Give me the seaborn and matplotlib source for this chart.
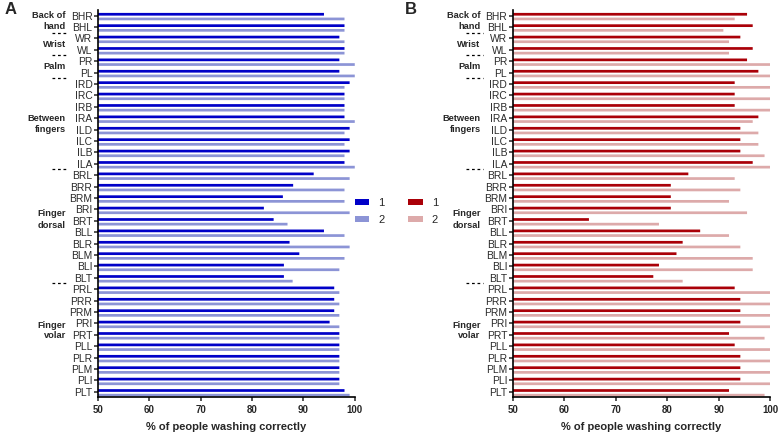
import numpy as np
import pandas as pd
import matplotlib
matplotlib.use("Agg")
import matplotlib.pyplot as plt
import seaborn as sns

# ── Data ──────────────────────────────────────────────────────────────────────
sites = ["BHR", "BHL", "WR", "WL", "PR", "PL",
         "IRD", "IRC", "IRB", "IRA", "ILD", "ILC", "ILB", "ILA",
         "BRL", "BRR", "BRM", "BRI", "BRT", "BLL", "BLR", "BLM", "BLI", "BLT",
         "PRL", "PRR", "PRM", "PRI", "PRT", "PLL", "PLR", "PLM", "PLI", "PLT"]

a_group1 = [94, 98, 97, 98, 97, 97,
            99, 98, 98, 98, 99, 99, 99, 98,
            92, 88, 86, 82.3, 84.2, 94, 87.3, 89.2, 86.2, 86.2,
            96, 96, 96, 95.1, 97, 97, 97, 97, 97, 98]
a_group2 = [98, 98, 98, 98, 100, 100,
            98, 98, 98, 100, 98, 98, 98, 100,
            99, 98, 98, 99, 86.9, 98, 99, 98, 97, 87.9,
            97, 97, 97, 97, 97, 97, 97, 97, 97, 99]

b_group1 = [95.5, 96.6, 94.2, 96.6, 95.5, 97.7,
            93.1, 93.1, 93.1, 97.7, 94.2, 94.2, 94.2, 96.6,
            84.1, 80.7, 80.7, 80.7, 64.8, 86.4, 83.0, 81.8, 78.4, 77.3,
            93.1, 94.2, 94.2, 94.2, 92.0, 93.1, 94.2, 94.2, 94.2, 92.0]
b_group2 = [93.1, 90.9, 92.0, 92.0, 100, 100,
            100, 100, 100, 96.6, 97.7, 97.7, 98.9, 100,
            93.1, 94.2, 92.0, 95.5, 78.4, 92.0, 94.2, 96.6, 96.6, 83.0,
            100, 100, 100, 100, 98.9, 100, 100, 100, 100, 98.9]

# region labels (text lines, row in tick units) and dashed separators
region_lines = [("Back of", 0.0), ("hand", 1.0), ("Wrist", 2.55), ("Palm", 4.5),
                ("Between", 9.0), ("fingers", 10.0),
                ("Finger", 17.4), ("dorsal", 18.4),
                ("Finger", 27.2), ("volar", 28.1)]
separators = [1.5, 3.5, 5.5, 13.5, 23.5]

sns.set_style("ticks")
plt.rcParams["font.family"] = ["Liberation Sans", "DejaVu Sans"]

TICK_SHIFT = -0.09   # ticks sit next to the first bar of each pair


def make_df(v1, v2):
    return pd.DataFrame({
        "site": sites * 2,
        "group": ["1"] * len(sites) + ["2"] * len(sites),
        "value": list(v1) + list(v2),
    })


def draw_panel(ax, v1, v2, colors, legend_x):
    df = make_df(v1, v2)
    sns.barplot(data=df, y="site", x="value", hue="group", order=sites,
                palette={"1": colors[0], "2": colors[1]},
                width=0.82, gap=0.42, saturation=1, errorbar=None,
                linewidth=0, ax=ax)
    for p in ax.patches:
        p.set_snap(False)
    ax.set_xlim(50, 100)
    ax.set_ylim(33.375, -0.58)
    ax.set_xticks(np.arange(50, 101, 10))
    ax.set_yticks(np.arange(len(sites)) + TICK_SHIFT, labels=sites)
    ax.tick_params(axis="y", labelsize=7.4, length=3, width=1.1,
                   labelcolor="#2a2a2a", pad=1)
    ax.tick_params(axis="x", labelsize=7, length=3, width=1.1, pad=3)
    for lbl in ax.get_xticklabels():
        lbl.set_fontweight("bold")
    ax.set_ylabel("")
    ax.set_xlabel("% of people washing correctly", fontsize=8,
                  fontweight="bold", labelpad=5)
    for side in ["top", "right"]:
        ax.spines[side].set_visible(False)
    for side in ["left", "bottom"]:
        ax.spines[side].set_linewidth(1.2)
        ax.spines[side].set_color("black")

    trans = ax.get_yaxis_transform()
    for txt, row in region_lines:
        ax.text(-0.125, row + TICK_SHIFT, txt, transform=trans, ha="right",
                va="center", fontsize=6.7, fontweight="bold")
    for row in separators:
        ax.plot([-0.18, -0.117], [row + TICK_SHIFT] * 2, transform=trans,
                clip_on=False, color="black", lw=0.9, ls=(0, (2.2, 2.2)))

    sns.move_legend(ax, "center left", bbox_to_anchor=(legend_x, 0.48),
                    frameon=False, title=None, fontsize=8,
                    handlelength=1.3, handleheight=0.5, labelspacing=0.65,
                    handletextpad=0.8, borderaxespad=0, borderpad=0)


fig = plt.figure(figsize=(7.78, 4.34), dpi=100)
ax_a = fig.add_axes([0.126, 0.085, 0.330, 0.892])
ax_b = fig.add_axes([0.659, 0.085, 0.331, 0.892])

draw_panel(ax_a, a_group1, a_group2, ("#0000C8", "#8C94D6"), 1.0)
draw_panel(ax_b, b_group1, b_group2, ("#AA0008", "#DDAAAA"), -0.405)

fig.text(0.006, 0.995, "A", fontsize=12, fontweight="bold", va="top")
fig.text(0.52, 0.995, "B", fontsize=12, fontweight="bold", va="top")

fig.savefig("out.png", dpi=100)
